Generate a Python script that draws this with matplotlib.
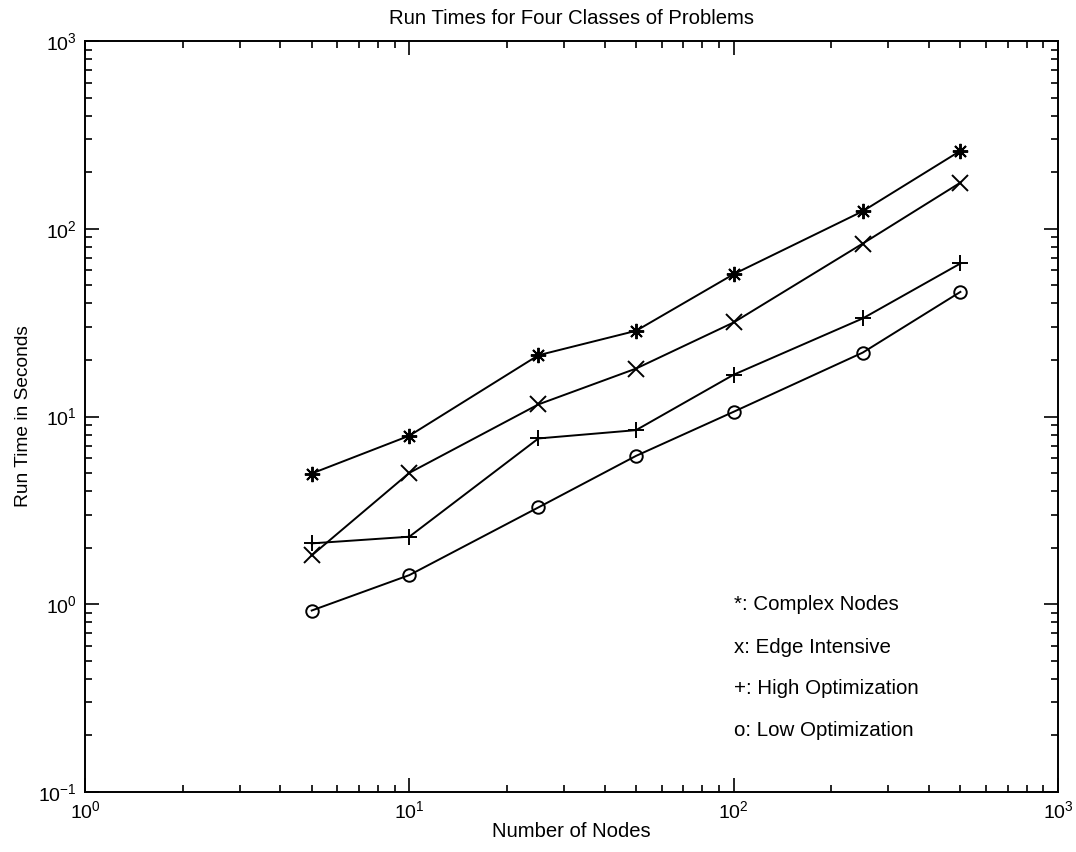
import matplotlib
matplotlib.use("Agg")
import matplotlib.pyplot as plt
from matplotlib.ticker import LogLocator, NullFormatter

plt.rcParams['font.family'] = ['Liberation Sans', 'DejaVu Sans']
plt.rcParams['mathtext.default'] = 'regular'

nodes = [5, 10, 25, 50, 100, 250, 500]
complex_nodes = [4.97, 7.9, 21.2, 28.6, 57.3, 124, 260]
edge_intensive = [1.82, 5.01, 11.6, 18.0, 31.7, 83.4, 176]
high_opt = [2.11, 2.29, 7.64, 8.46, 16.7, 33.3, 65.3]
low_opt = [0.926, 1.43, 3.28, 6.17, 10.6, 21.9, 46.1]

legend_labels = ["*: Complex Nodes", "x: Edge Intensive",
                 "+: High Optimization", "o: Low Optimization"]
legend_y = [1.0, 0.59, 0.356, 0.213]

fig = plt.figure(figsize=(10.76, 8.52), dpi=100)
ax = fig.add_axes([0.079, 0.0704, 0.9043, 0.8815])

lw = 1.4
ax.plot(nodes, complex_nodes, color='black', lw=lw, marker=(8, 2, 0), ms=11, mew=1.4)
ax.plot(nodes, edge_intensive, color='black', lw=lw, marker='x', ms=11, mew=1.4)
ax.plot(nodes, high_opt, color='black', lw=lw, marker='+', ms=12, mew=1.4)
ax.plot(nodes, low_opt, color='black', lw=lw, marker='o', ms=9, mew=1.4, mfc='none')

ax.set_xscale('log')
ax.set_yscale('log')
ax.set_xlim(1, 1000)
ax.set_ylim(0.1, 1000)

ax.xaxis.set_minor_locator(LogLocator(base=10, subs=range(2, 10)))
ax.yaxis.set_minor_locator(LogLocator(base=10, subs=range(2, 10)))
ax.xaxis.set_minor_formatter(NullFormatter())
ax.yaxis.set_minor_formatter(NullFormatter())

ax.tick_params(which='both', direction='in', top=True, right=True, width=1.2)
ax.tick_params(which='major', length=10, labelsize=14, pad=6)
ax.tick_params(which='minor', length=5)
for s in ax.spines.values():
    s.set_linewidth(1.4)

for lab, yv in zip(legend_labels, legend_y):
    ax.text(100, yv, lab, fontsize=14.8, va='center', ha='left')

ax.set_title("Run Times for Four Classes of Problems", fontsize=14.6, pad=12)
ax.set_xlabel("Number of Nodes", fontsize=14.6, labelpad=0)
ax.set_ylabel("Run Time in Seconds", fontsize=13.8, labelpad=4)

fig.savefig("out.png", dpi=100, facecolor='white')
